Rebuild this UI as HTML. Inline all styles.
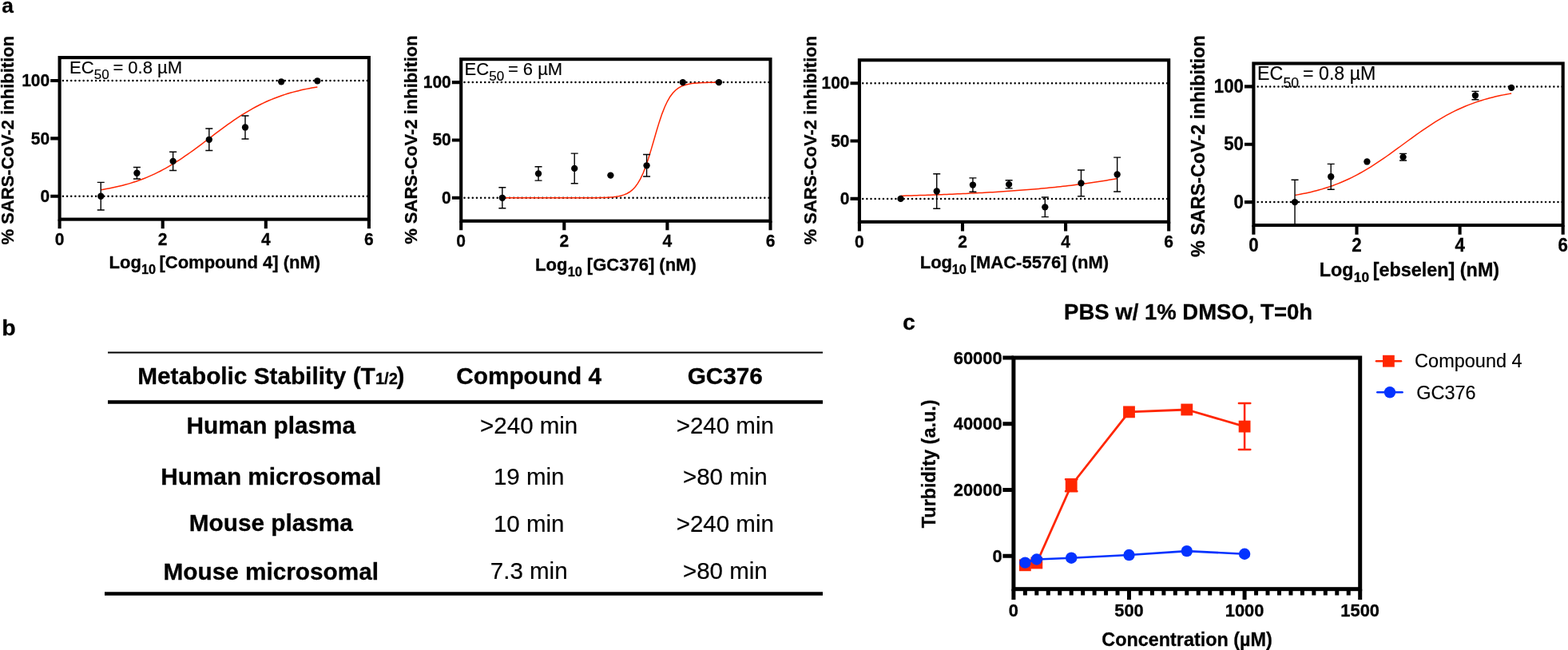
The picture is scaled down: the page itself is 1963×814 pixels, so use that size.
<!DOCTYPE html>
<html lang="en">
<head>
<meta charset="utf-8">
<title>Figure</title>
<style>
html,body{margin:0;padding:0;background:#fff;}
body{width:1963px;height:814px;overflow:hidden;font-family:"Liberation Sans",sans-serif;}
svg{display:block;position:absolute;left:0;top:0;}
text{font-family:"Liberation Sans",sans-serif;fill:#000;stroke:#000;stroke-width:0.3px;}
.frame{fill:none;stroke:#000;stroke-width:4.1;}
.tick{fill:none;stroke:#000;stroke-width:4.1;}
.framec{fill:none;stroke:#000;stroke-width:5;}
.tickc{fill:none;stroke:#000;stroke-width:5;}
.dot{stroke:#000;stroke-width:2.5;stroke-linecap:round;stroke-dasharray:0 5.148;}
.fit{fill:none;stroke:#ff2600;stroke-width:1.5;}
.err{fill:none;stroke:#000;stroke-width:1.4;}
.tl{font-weight:bold;font-size:21px;}
.al{font-weight:bold;font-size:22px;}
.sub{font-size:16.3px;}
.ec{font-size:22px;stroke-width:0.15px;}
.ecsub{font-size:17px;}
.pl{font-weight:bold;font-size:28px;}
.tb{font-weight:bold;font-size:29.75px;}
.tr{font-size:29.5px;stroke-width:0.2px;}
.half{font-size:20.2px;}
.title{font-weight:bold;font-size:27.5px;}
.tlc{font-weight:bold;font-size:21.9px;}
.alc{font-weight:bold;font-size:23.4px;}
.lr{fill:none;stroke:#ff2600;stroke-width:2.8;stroke-linejoin:round;}
.lb{fill:none;stroke:#0433ff;stroke-width:2.6;stroke-linejoin:round;}
.er{fill:none;stroke:#ff2600;stroke-width:2.5;stroke-linecap:round;}
.eb{fill:none;stroke:#0433ff;stroke-width:2.5;stroke-linecap:round;}
.lg{font-size:23.5px;stroke-width:0.15px;}
</style>
</head>
<body>
<svg width="1963" height="814" viewBox="0 0 1963 814">
<g class="chart">
<line x1="78.9" y1="101" x2="461.9" y2="101" class="dot"/>
<line x1="78.9" y1="245.7" x2="461.9" y2="245.7" class="dot"/>
<path d="M126.24 237.74 L129.63 237.18 L133.02 236.6 L136.41 235.97 L139.8 235.31 L143.18 234.6 L146.57 233.85 L149.96 233.05 L153.35 232.21 L156.74 231.31 L160.13 230.36 L163.52 229.36 L166.91 228.3 L170.3 227.19 L173.68 226.01 L177.07 224.77 L180.46 223.46 L183.85 222.09 L187.24 220.65 L190.63 219.15 L194.02 217.57 L197.41 215.92 L200.8 214.21 L204.18 212.42 L207.57 210.56 L210.96 208.64 L214.35 206.65 L217.74 204.59 L221.13 202.46 L224.52 200.28 L227.91 198.03 L231.3 195.73 L234.68 193.38 L238.07 190.99 L241.46 188.55 L244.85 186.07 L248.24 183.57 L251.63 181.03 L255.02 178.48 L258.41 175.92 L261.8 173.35 L265.18 170.78 L268.57 168.22 L271.96 165.67 L275.35 163.13 L278.74 160.63 L282.13 158.15 L285.52 155.71 L288.91 153.32 L292.29 150.97 L295.68 148.67 L299.07 146.42 L302.46 144.24 L305.85 142.11 L309.24 140.05 L312.63 138.06 L316.02 136.14 L319.41 134.28 L322.79 132.49 L326.18 130.78 L329.57 129.13 L332.96 127.55 L336.35 126.05 L339.74 124.61 L343.13 123.24 L346.52 121.93 L349.91 120.69 L353.29 119.51 L356.68 118.4 L360.07 117.34 L363.46 116.34 L366.85 115.39 L370.24 114.49 L373.63 113.65 L377.02 112.85 L380.41 112.1 L383.79 111.39 L387.18 110.73 L390.57 110.1 L393.96 109.52 L397.35 108.96" class="fit"/>
<path d="M126.24 228.34V263.06M121.74 228.34H130.74M121.74 263.06H130.74" class="err"/>
<circle cx="126.24" cy="245.7" r="4.15"/>
<path d="M171.42 209.52V223.99M166.92 209.52H175.92M166.92 223.99H175.92" class="err"/>
<circle cx="171.42" cy="216.76" r="4.15"/>
<path d="M216.61 190.28V213.43M212.11 190.28H221.11M212.11 213.43H221.11" class="err"/>
<circle cx="216.61" cy="201.86" r="4.15"/>
<path d="M261.79 161.05V188.54M257.29 161.05H266.29M257.29 188.54H266.29" class="err"/>
<circle cx="261.79" cy="174.8" r="4.15"/>
<path d="M306.98 144.99V173.93M302.48 144.99H311.48M302.48 173.93H311.48" class="err"/>
<circle cx="306.98" cy="159.46" r="4.15"/>
<circle cx="352.16" cy="102.3" r="4.15"/>
<circle cx="397.35" cy="101.29" r="4.15"/>
<rect x="74.6" y="72.06" width="387.3" height="202.58" class="frame"/>
<path d="M63.2 245.7H74.6M63.2 173.35H74.6M63.2 101H74.6M74.6 274.64V286.24M203.7 274.64V286.24M332.8 274.64V286.24M461.9 274.64V286.24" class="tick"/>
<text transform="translate(62.2 252.9) scale(1 1.035)" class="tl" text-anchor="end">0</text>
<text transform="translate(62.2 180.55) scale(1 1.035)" class="tl" text-anchor="end">50</text>
<text transform="translate(62.2 108.2) scale(1 1.035)" class="tl" text-anchor="end">100</text>
<text transform="translate(74.6 306.64) scale(1 1.035)" class="tl" text-anchor="middle">0</text>
<text transform="translate(203.7 306.64) scale(1 1.035)" class="tl" text-anchor="middle">2</text>
<text transform="translate(332.8 306.64) scale(1 1.035)" class="tl" text-anchor="middle">4</text>
<text transform="translate(461.9 306.64) scale(1 1.035)" class="tl" text-anchor="middle">6</text>
<text transform="translate(17.1 175.65) rotate(-90)" class="al" text-anchor="middle">% SARS-CoV-2 inhibition</text>
<text y="336.4" class="al"><tspan x="136.5">Log</tspan><tspan class="sub" x="177.01" dy="7">10</tspan><tspan x="193.34" dy="-7"> [Compound 4] (nM)</tspan></text>
<text y="91.5" class="ec"><tspan x="87">EC</tspan><tspan class="ecsub" x="117.86" dy="7">50</tspan><tspan x="135.27" dy="-7"> = 0.8 µM</tspan></text>
</g>
<g class="chart">
<line x1="581.5" y1="103.1" x2="964.5" y2="103.1" class="dot"/>
<line x1="581.5" y1="247.8" x2="964.5" y2="247.8" class="dot"/>
<path d="M628.84 247.8 L632.23 247.8 L635.62 247.8 L639.01 247.8 L642.4 247.8 L645.78 247.8 L649.17 247.8 L652.56 247.8 L655.95 247.8 L659.34 247.8 L662.73 247.8 L666.12 247.8 L669.51 247.8 L672.9 247.8 L676.28 247.8 L679.67 247.8 L683.06 247.8 L686.45 247.8 L689.84 247.8 L693.23 247.8 L696.62 247.8 L700.01 247.8 L703.4 247.8 L706.78 247.8 L710.17 247.8 L713.56 247.79 L716.95 247.79 L720.34 247.79 L723.73 247.78 L727.12 247.78 L730.51 247.77 L733.9 247.76 L737.28 247.74 L740.67 247.72 L744.06 247.69 L747.45 247.65 L750.84 247.59 L754.23 247.51 L757.62 247.39 L761.01 247.24 L764.4 247.02 L767.78 246.73 L771.17 246.32 L774.56 245.75 L777.95 244.98 L781.34 243.91 L784.73 242.47 L788.12 240.52 L791.51 237.9 L794.89 234.43 L798.28 229.91 L801.67 224.13 L805.06 216.95 L808.45 208.29 L811.84 198.26 L815.23 187.15 L818.62 175.45 L822.01 163.75 L825.39 152.64 L828.78 142.61 L832.17 133.95 L835.56 126.77 L838.95 120.99 L842.34 116.47 L845.73 113 L849.12 110.38 L852.51 108.43 L855.89 106.99 L859.28 105.92 L862.67 105.15 L866.06 104.58 L869.45 104.17 L872.84 103.88 L876.23 103.66 L879.62 103.51 L883.01 103.39 L886.39 103.31 L889.78 103.25 L893.17 103.21 L896.56 103.18 L899.95 103.16" class="fit"/>
<path d="M628.84 234.78V260.82M624.34 234.78H633.34M624.34 260.82H633.34" class="err"/>
<circle cx="628.84" cy="247.8" r="4.15"/>
<path d="M674.03 208.73V226.09M669.53 208.73H678.53M669.53 226.09H678.53" class="err"/>
<circle cx="674.03" cy="217.41" r="4.15"/>
<path d="M719.21 192.09V229.71M714.71 192.09H723.71M714.71 229.71H723.71" class="err"/>
<circle cx="719.21" cy="210.9" r="4.15"/>
<circle cx="764.39" cy="219.58" r="4.15"/>
<path d="M809.58 193.54V221.03M805.08 193.54H814.08M805.08 221.03H814.08" class="err"/>
<circle cx="809.58" cy="207.28" r="4.15"/>
<circle cx="854.77" cy="103.1" r="4.15"/>
<circle cx="899.95" cy="103.1" r="4.15"/>
<rect x="577.2" y="74.16" width="387.3" height="202.58" class="frame"/>
<path d="M565.8 247.8H577.2M565.8 175.45H577.2M565.8 103.1H577.2M577.2 276.74V288.34M706.3 276.74V288.34M835.4 276.74V288.34M964.5 276.74V288.34" class="tick"/>
<text transform="translate(564.8 254.5) scale(1 1.035)" class="tl" text-anchor="end">0</text>
<text transform="translate(564.8 182.15) scale(1 1.035)" class="tl" text-anchor="end">50</text>
<text transform="translate(564.8 109.8) scale(1 1.035)" class="tl" text-anchor="end">100</text>
<text transform="translate(577.2 308.74) scale(1 1.035)" class="tl" text-anchor="middle">0</text>
<text transform="translate(706.3 308.74) scale(1 1.035)" class="tl" text-anchor="middle">2</text>
<text transform="translate(835.4 308.74) scale(1 1.035)" class="tl" text-anchor="middle">4</text>
<text transform="translate(964.5 308.74) scale(1 1.035)" class="tl" text-anchor="middle">6</text>
<text transform="translate(521.8 175.05) rotate(-90)" class="al" text-anchor="middle">% SARS-CoV-2 inhibition</text>
<text y="338.5" class="al"><tspan x="670">Log</tspan><tspan class="sub" x="710.71" dy="7">10</tspan><tspan x="728.74" dy="-7"> [GC376] (nM)</tspan></text>
<text y="94" class="ec"><tspan x="581.5">EC</tspan><tspan class="ecsub" x="612.36" dy="7">50</tspan><tspan x="629.77" dy="-7"> = 6 µM</tspan></text>
</g>
<g class="chart">
<line x1="1080.2" y1="104.2" x2="1463.2" y2="104.2" class="dot"/>
<line x1="1080.2" y1="248.9" x2="1463.2" y2="248.9" class="dot"/>
<path d="M1127.54 245.28 L1130.93 245.19 L1134.32 245.1 L1137.71 245.01 L1141.1 244.91 L1144.48 244.81 L1147.87 244.71 L1151.26 244.61 L1154.65 244.51 L1158.04 244.4 L1161.43 244.29 L1164.82 244.17 L1168.21 244.06 L1171.6 243.94 L1174.98 243.81 L1178.37 243.69 L1181.76 243.56 L1185.15 243.43 L1188.54 243.3 L1191.93 243.16 L1195.32 243.02 L1198.71 242.87 L1202.1 242.72 L1205.48 242.57 L1208.87 242.41 L1212.26 242.25 L1215.65 242.09 L1219.04 241.92 L1222.43 241.75 L1225.82 241.58 L1229.21 241.4 L1232.6 241.21 L1235.98 241.02 L1239.37 240.83 L1242.76 240.63 L1246.15 240.43 L1249.54 240.22 L1252.93 240 L1256.32 239.78 L1259.71 239.56 L1263.09 239.33 L1266.48 239.09 L1269.87 238.85 L1273.26 238.6 L1276.65 238.35 L1280.04 238.09 L1283.43 237.83 L1286.82 237.55 L1290.21 237.27 L1293.59 236.99 L1296.98 236.69 L1300.37 236.39 L1303.76 236.08 L1307.15 235.77 L1310.54 235.45 L1313.93 235.11 L1317.32 234.78 L1320.71 234.43 L1324.09 234.07 L1327.48 233.71 L1330.87 233.33 L1334.26 232.95 L1337.65 232.56 L1341.04 232.15 L1344.43 231.74 L1347.82 231.32 L1351.21 230.89 L1354.59 230.44 L1357.98 229.99 L1361.37 229.52 L1364.76 229.05 L1368.15 228.56 L1371.54 228.06 L1374.93 227.54 L1378.32 227.02 L1381.71 226.48 L1385.09 225.93 L1388.48 225.36 L1391.87 224.78 L1395.26 224.19 L1398.65 223.58" class="fit"/>
<circle cx="1127.54" cy="248.9" r="4.15"/>
<path d="M1172.72 217.79V261.2M1168.22 217.79H1177.22M1168.22 261.2H1177.22" class="err"/>
<circle cx="1172.72" cy="239.49" r="4.15"/>
<path d="M1217.91 222.85V240.22M1213.41 222.85H1222.41M1213.41 240.22H1222.41" class="err"/>
<circle cx="1217.91" cy="231.54" r="4.15"/>
<path d="M1263.09 225.75V235.88M1258.59 225.75H1267.59M1258.59 235.88H1267.59" class="err"/>
<circle cx="1263.09" cy="230.81" r="4.15"/>
<path d="M1308.28 247.02V271.62M1303.78 247.02H1312.78M1303.78 271.62H1312.78" class="err"/>
<circle cx="1308.28" cy="259.32" r="4.15"/>
<path d="M1353.46 213.01V245.72M1348.96 213.01H1357.96M1348.96 245.72H1357.96" class="err"/>
<circle cx="1353.46" cy="229.37" r="4.15"/>
<path d="M1398.65 197.1V239.93M1394.15 197.1H1403.15M1394.15 239.93H1403.15" class="err"/>
<circle cx="1398.65" cy="218.51" r="4.15"/>
<rect x="1075.9" y="75.26" width="387.3" height="202.58" class="frame"/>
<path d="M1064.5 248.9H1075.9M1064.5 176.55H1075.9M1064.5 104.2H1075.9M1075.9 277.84V289.44M1205 277.84V289.44M1334.1 277.84V289.44M1463.2 277.84V289.44" class="tick"/>
<text transform="translate(1063.5 256.1) scale(1 1.035)" class="tl" text-anchor="end">0</text>
<text transform="translate(1063.5 183.75) scale(1 1.035)" class="tl" text-anchor="end">50</text>
<text transform="translate(1063.5 111.4) scale(1 1.035)" class="tl" text-anchor="end">100</text>
<text transform="translate(1075.9 310.34) scale(1 1.035)" class="tl" text-anchor="middle">0</text>
<text transform="translate(1205 310.34) scale(1 1.035)" class="tl" text-anchor="middle">2</text>
<text transform="translate(1334.1 310.34) scale(1 1.035)" class="tl" text-anchor="middle">4</text>
<text transform="translate(1463.2 310.34) scale(1 1.035)" class="tl" text-anchor="middle">6</text>
<text transform="translate(1022.2 175.65) rotate(-90)" class="al" text-anchor="middle">% SARS-CoV-2 inhibition</text>
<text y="336.3" class="al"><tspan x="1151.7">Log</tspan><tspan class="sub" x="1191.71" dy="7">10</tspan><tspan x="1208.54" dy="-7"> [MAC-5576] (nM)</tspan></text>
</g>
<g class="chart">
<line x1="1574.7" y1="108.4" x2="1956.7" y2="108.4" class="dot"/>
<line x1="1574.7" y1="253.1" x2="1956.7" y2="253.1" class="dot"/>
<path d="M1621.04 244.46 L1624.43 243.88 L1627.82 243.27 L1631.21 242.61 L1634.6 241.92 L1637.98 241.19 L1641.37 240.42 L1644.76 239.6 L1648.15 238.73 L1651.54 237.81 L1654.93 236.85 L1658.32 235.82 L1661.71 234.75 L1665.1 233.62 L1668.48 232.42 L1671.87 231.17 L1675.26 229.86 L1678.65 228.48 L1682.04 227.04 L1685.43 225.54 L1688.82 223.97 L1692.21 222.33 L1695.6 220.63 L1698.98 218.86 L1702.37 217.03 L1705.76 215.13 L1709.15 213.17 L1712.54 211.15 L1715.93 209.07 L1719.32 206.93 L1722.71 204.73 L1726.1 202.49 L1729.48 200.2 L1732.87 197.87 L1736.26 195.5 L1739.65 193.09 L1743.04 190.66 L1746.43 188.2 L1749.82 185.73 L1753.21 183.24 L1756.59 180.75 L1759.98 178.26 L1763.37 175.77 L1766.76 173.3 L1770.15 170.84 L1773.54 168.41 L1776.93 166 L1780.32 163.63 L1783.71 161.3 L1787.09 159.01 L1790.48 156.77 L1793.87 154.57 L1797.26 152.43 L1800.65 150.35 L1804.04 148.33 L1807.43 146.37 L1810.82 144.47 L1814.21 142.64 L1817.59 140.87 L1820.98 139.17 L1824.37 137.53 L1827.76 135.96 L1831.15 134.46 L1834.54 133.02 L1837.93 131.64 L1841.32 130.33 L1844.71 129.08 L1848.09 127.88 L1851.48 126.75 L1854.87 125.68 L1858.26 124.65 L1861.65 123.69 L1865.04 122.77 L1868.43 121.9 L1871.82 121.08 L1875.21 120.31 L1878.59 119.58 L1881.98 118.89 L1885.37 118.23 L1888.76 117.62 L1892.15 117.04" class="fit"/>
<path d="M1621.04 225.32V280.88M1616.54 225.32H1625.54M1616.54 280.88H1625.54" class="err"/>
<circle cx="1621.04" cy="253.1" r="4.15"/>
<path d="M1666.22 205.35V237.18M1661.72 205.35H1670.72M1661.72 237.18H1670.72" class="err"/>
<circle cx="1666.22" cy="221.27" r="4.15"/>
<circle cx="1711.41" cy="202.45" r="4.15"/>
<path d="M1756.59 192.33V201.01M1752.09 192.33H1761.09M1752.09 201.01H1761.09" class="err"/>
<circle cx="1756.59" cy="196.67" r="4.15"/>
<path d="M1846.96 114.33V124.75M1842.46 114.33H1851.46M1842.46 124.75H1851.46" class="err"/>
<circle cx="1846.96" cy="119.54" r="4.15"/>
<circle cx="1892.15" cy="109.85" r="4.15"/>
<rect x="1569.4" y="79.46" width="387.3" height="202.58" class="frame"/>
<path d="M1558 253.1H1569.4M1558 180.75H1569.4M1558 108.4H1569.4M1569.4 282.04V293.64M1698.5 282.04V293.64M1827.6 282.04V293.64M1956.7 282.04V293.64" class="tick"/>
<text transform="translate(1557 260.75) scale(1 1.035)" class="tl" text-anchor="end" style="font-size:22.32px">0</text>
<text transform="translate(1557 188.4) scale(1 1.035)" class="tl" text-anchor="end" style="font-size:22.32px">50</text>
<text transform="translate(1557 116.05) scale(1 1.035)" class="tl" text-anchor="end" style="font-size:22.32px">100</text>
<text transform="translate(1569.4 314.94) scale(1 1.035)" class="tl" text-anchor="middle" style="font-size:22.32px">0</text>
<text transform="translate(1698.5 314.94) scale(1 1.035)" class="tl" text-anchor="middle" style="font-size:22.32px">2</text>
<text transform="translate(1827.6 314.94) scale(1 1.035)" class="tl" text-anchor="middle" style="font-size:22.32px">4</text>
<text transform="translate(1956.7 314.94) scale(1 1.035)" class="tl" text-anchor="middle" style="font-size:22.32px">6</text>
<text transform="translate(1507.9 183.05) rotate(-90)" class="al" text-anchor="middle" style="font-size:23.39px">% SARS-CoV-2 inhibition</text>
<text y="345.7" class="al" style="font-size:23.39px"><tspan x="1651.7">Log</tspan><tspan class="sub" x="1694.75" dy="7.44" style="font-size:17.33px">10</tspan><tspan x="1712.22" dy="-7.44"> [ebselen] (nM)</tspan></text>
<text y="100.4" class="ec" style="font-size:23.2px"><tspan x="1574">EC</tspan><tspan class="ecsub" x="1606.53" dy="9.3" style="font-size:17.6px">50</tspan><tspan x="1624.6" dy="-9.3"> = 0.8 µM</tspan></text>
</g>
<text x="2.2" y="15.5" class="pl" style="font-size:26.3px">a</text>
<text x="2.2" y="419.5" class="pl" style="font-size:28.5px">b</text>
<text x="1129.9" y="413.3" class="pl" style="font-size:28.5px">c</text>
<g class="table">
<path d="M135 441.5H1030" stroke="#000" stroke-width="2.2" fill="none"/>
<path d="M135 503.5H1030" stroke="#000" stroke-width="4.5" fill="none"/>
<path d="M131 743.5H1030" stroke="#000" stroke-width="4.5" fill="none"/>
<text y="480.9" class="tb"><tspan x="172.2">Metabolic Stability (T</tspan><tspan class="half" x="469.9">1/2</tspan><tspan x="496.58">)</tspan></text>
<text x="662.2" y="480.9" class="tb" text-anchor="middle">Compound 4</text>
<text x="907.8" y="480.9" class="tb" text-anchor="middle">GC376</text>
<text x="339.3" y="543.2" class="tb" text-anchor="middle">Human plasma</text>
<text x="662.2" y="543.3" class="tr" text-anchor="middle">&gt;240 min</text>
<text x="907.8" y="543.3" class="tr" text-anchor="middle">&gt;240 min</text>
<text x="339.3" y="606.6" class="tb" text-anchor="middle">Human microsomal</text>
<text x="662.2" y="606.6" class="tr" text-anchor="middle">19 min</text>
<text x="907.8" y="606.6" class="tr" text-anchor="middle">&gt;80 min</text>
<text x="339.3" y="665.3" class="tb" text-anchor="middle">Mouse plasma</text>
<text x="662.2" y="666.2" class="tr" text-anchor="middle">10 min</text>
<text x="907.8" y="666.2" class="tr" text-anchor="middle">&gt;240 min</text>
<text x="339.3" y="725.7" class="tb" text-anchor="middle">Mouse microsomal</text>
<text x="662.2" y="725.1" class="tr" text-anchor="middle">7.3 min</text>
<text x="907.8" y="725.1" class="tr" text-anchor="middle">&gt;80 min</text>
</g>
<g class="chartc">
<text x="1487.6" y="399.8" class="title" text-anchor="middle">PBS w/ 1% DMSO, T=0h</text>
<path d="M1283.36 707.8 L1297.82 704.99 L1341.2 607.75 L1413.5 515.88 L1485.8 512.99 L1558.1 534.09" class="lr"/>
<rect x="1275.96" y="700.4" width="14.8" height="14.8" fill="#ff2600"/>
<rect x="1290.42" y="697.59" width="14.8" height="14.8" fill="#ff2600"/>
<path d="M1341.2 600.3V615.2M1334 600.3h14.4M1334 615.2h14.4" class="er"/>
<rect x="1333.8" y="600.35" width="14.8" height="14.8" fill="#ff2600"/>
<rect x="1406.1" y="508.48" width="14.8" height="14.8" fill="#ff2600"/>
<rect x="1478.4" y="505.59" width="14.8" height="14.8" fill="#ff2600"/>
<path d="M1558.1 505.12V563.06M1550.9 505.12h14.4M1550.9 563.06h14.4" class="er"/>
<rect x="1550.7" y="526.69" width="14.8" height="14.8" fill="#ff2600"/>
<path d="M1283.36 704.66 L1297.82 700.52 L1341.2 698.7 L1413.5 695.06 L1485.8 690.09 L1558.1 693.73" class="lb"/>
<circle cx="1283.36" cy="704.66" r="7.2" fill="#0433ff"/>
<circle cx="1297.82" cy="700.52" r="7.2" fill="#0433ff"/>
<circle cx="1341.2" cy="698.7" r="7.2" fill="#0433ff"/>
<circle cx="1413.5" cy="695.06" r="7.2" fill="#0433ff"/>
<circle cx="1485.8" cy="690.09" r="7.2" fill="#0433ff"/>
<circle cx="1558.1" cy="693.73" r="7.2" fill="#0433ff"/>
<rect x="1268.9" y="448.02" width="433.8" height="289.66" class="framec"/>
<path d="M1255.4 696.3H1268.9M1255.4 613.54H1268.9M1255.4 530.78H1268.9M1255.4 448.02H1268.9M1268.9 737.68V750.88M1413.5 737.68V750.88M1558.1 737.68V750.88M1702.7 737.68V750.88" class="tickc"/>
<path d="M1283.36 737.68V745.58M1297.82 737.68V745.58M1312.28 737.68V745.58M1326.74 737.68V745.58M1341.2 737.68V745.58M1355.66 737.68V745.58M1370.12 737.68V745.58M1384.58 737.68V745.58M1399.04 737.68V745.58M1427.96 737.68V745.58M1442.42 737.68V745.58M1456.88 737.68V745.58M1471.34 737.68V745.58M1485.8 737.68V745.58M1500.26 737.68V745.58M1514.72 737.68V745.58M1529.18 737.68V745.58M1543.64 737.68V745.58M1572.56 737.68V745.58M1587.02 737.68V745.58M1601.48 737.68V745.58M1615.94 737.68V745.58M1630.4 737.68V745.58M1644.86 737.68V745.58M1659.32 737.68V745.58M1673.78 737.68V745.58M1688.24 737.68V745.58" class="tickc"/>
<text transform="translate(1254.6 704) scale(1 1.035)" class="tlc" text-anchor="end">0</text>
<text transform="translate(1254.6 621.24) scale(1 1.035)" class="tlc" text-anchor="end">20000</text>
<text transform="translate(1254.6 538.48) scale(1 1.035)" class="tlc" text-anchor="end">40000</text>
<text transform="translate(1254.6 455.72) scale(1 1.035)" class="tlc" text-anchor="end">60000</text>
<text transform="translate(1268.9 772.08) scale(1 1.035)" class="tlc" text-anchor="middle">0</text>
<text transform="translate(1413.5 772.08) scale(1 1.035)" class="tlc" text-anchor="middle">500</text>
<text transform="translate(1558.1 772.08) scale(1 1.035)" class="tlc" text-anchor="middle">1000</text>
<text transform="translate(1702.7 772.08) scale(1 1.035)" class="tlc" text-anchor="middle">1500</text>
<text transform="translate(1171 580.85) rotate(-90)" class="alc" text-anchor="middle">Turbidity (a.u.)</text>
<text x="1486.1" y="809" class="alc" text-anchor="middle">Concentration (µM)</text>
<path d="M1723 452.2H1754" class="er"/><rect x="1731" y="444.8" width="14.8" height="14.8" fill="#ff2600"/>
<text x="1771.1" y="460.4" class="lg">Compound 4</text>
<path d="M1724.3 491.3H1755.6" class="eb"/><circle cx="1740" cy="491.3" r="7.2" fill="#0433ff"/>
<text x="1773.2" y="499.6" class="lg">GC376</text>
</g>
</svg>
</body>
</html>
